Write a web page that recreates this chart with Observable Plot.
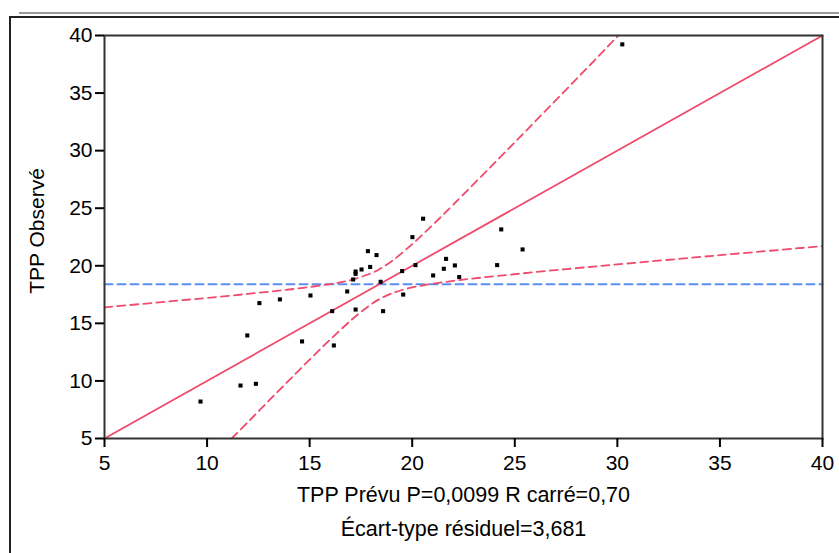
<!DOCTYPE html>
<html>
<head>
<meta charset="utf-8">
<script src="https://cdn.jsdelivr.net/npm/d3@7"></script>
<script src="https://cdn.jsdelivr.net/npm/@observablehq/plot@0.6"></script>
<style>
  html, body { margin: 0; padding: 0; background: white; }
  #wrap { position: relative; width: 839px; height: 553px; overflow: hidden; }
  .deco { position: absolute; }
</style>
</head>
<body>
<div id="wrap">
  <div class="deco" style="left:19px; top:12px; width:830px; height:2px; background:#9a9a9a;"></div>
  <div class="deco" style="left:9px; top:16px; width:840px; height:2px; background:#222;"></div>
  <div class="deco" style="left:9px; top:16px; width:2px; height:540px; background:#222;"></div>
  <div id="chart" style="position:absolute; left:0; top:0;"></div>
</div>
<script>
// Axis ticks
const xTicks = [5, 10, 15, 20, 25, 30, 35, 40];
const yTicks = [5, 10, 15, 20, 25, 30, 35, 40];

// Scatter points: predicted (x) vs observed (y)
const predicted = [9.68, 11.63, 12.38, 11.96, 12.55, 13.55, 14.63, 15.04, 16.1, 16.18,
  16.83, 17.12, 17.24, 17.24, 17.24, 17.53, 17.84, 17.95, 18.26, 18.46,
  18.58, 19.51, 19.56, 20.01, 20.16, 20.53, 21.02, 21.54, 21.65, 22.08,
  22.29, 24.14, 24.34, 25.38, 30.24];
const observed = [8.21, 9.6, 9.75, 13.95, 16.76, 17.08, 13.43, 17.42, 16.06, 13.08,
  17.77, 18.81, 19.5, 19.3, 16.2, 19.68, 21.27, 19.9, 20.93, 18.61,
  16.06, 19.54, 17.5, 22.49, 20.06, 24.09, 19.16, 19.74, 20.6, 20.03,
  19.02, 20.06, 23.16, 21.42, 39.23];

// Fit line
const fitX = [5, 40];
const fitY = [5, 40];

// Mean (horizontal) line
const meanX = [5, 40];
const meanY = [18.4, 18.4];

// Confidence curves
const upperX = [5, 8, 10, 12, 14, 16, 17, 18, 18.4, 19, 20, 21, 22, 24, 26, 28, 30.05];
const upperY = [16.39, 16.88, 17.21, 17.56, 17.94, 18.41, 18.76, 19.35, 19.7, 20.4, 21.88, 23.55, 25.31, 28.91, 32.55, 36.21, 40];
const lowerX = [11.2, 12, 13, 14, 15, 16, 17, 17.5, 18, 18.4, 19, 20, 22, 24, 26, 28, 30, 35, 40];
const lowerY = [5, 6.44, 8.26, 10.06, 11.85, 13.59, 15.24, 15.99, 16.65, 17.1, 17.6, 18.12, 18.69, 19.09, 19.45, 19.79, 20.12, 20.92, 21.71];

const xLabel = "TPP Prévu P=0,0099 R carré=0,70";
const xLabel2 = "Écart-type résiduel=3,681";
const yLabel = "TPP Observé";

const pts = predicted.map((x, i) => ({x, y: observed[i]}));
const fit = fitX.map((x, i) => ({x, y: fitY[i]}));
const mean = meanX.map((x, i) => ({x, y: meanY[i]}));
const upper = upperX.map((x, i) => ({x, y: upperY[i]}));
const lower = lowerX.map((x, i) => ({x, y: lowerY[i]}));

const red = "#f04a6c";
const blue = "#5b8ef2";

const chart = Plot.plot({
  width: 839,
  height: 553,
  marginLeft: 104,
  marginRight: 17,
  marginTop: 35,
  marginBottom: 115,
  style: {fontFamily: "'Liberation Sans', Arial, sans-serif", fontSize: "21px", background: "transparent", color: "black"},
  x: {domain: [5, 40]},
  y: {domain: [5, 40]},
  marks: [
    Plot.line(mean, {x: "x", y: "y", stroke: blue, strokeWidth: 2, strokeDasharray: "8,5"}),
    Plot.line(upper, {x: "x", y: "y", stroke: red, strokeWidth: 1.8, strokeDasharray: "8,5", curve: "catmull-rom", clip: true}),
    Plot.line(lower, {x: "x", y: "y", stroke: red, strokeWidth: 1.8, strokeDasharray: "8,5", curve: "catmull-rom", clip: true}),
    Plot.line(fit, {x: "x", y: "y", stroke: red, strokeWidth: 1.8}),
    Plot.dot(pts, {x: "x", y: "y", symbol: "square", r: 2.3, fill: "black", stroke: "none"}),
    Plot.frame({stroke: "#333", strokeWidth: 2}),
    Plot.axisX({ticks: xTicks, tickSize: 9, tickPadding: 8, fontSize: 21, label: null, strokeWidth: 2}),
    Plot.axisY({ticks: yTicks, tickSize: 9, tickPadding: 3, fontSize: 21, label: null, strokeWidth: 2}),
    Plot.text([xLabel], {text: d => d, frameAnchor: "bottom", dy: 63, fontSize: 21.5}),
    Plot.text([xLabel2], {text: d => d, frameAnchor: "bottom", dy: 97, fontSize: 21.5}),
    Plot.text([yLabel], {text: d => d, frameAnchor: "left", dx: -67, dy: -6, rotate: -90, textAnchor: "middle", fontSize: 21})
  ]
});
document.getElementById("chart").appendChild(chart);
</script>
</body>
</html>
